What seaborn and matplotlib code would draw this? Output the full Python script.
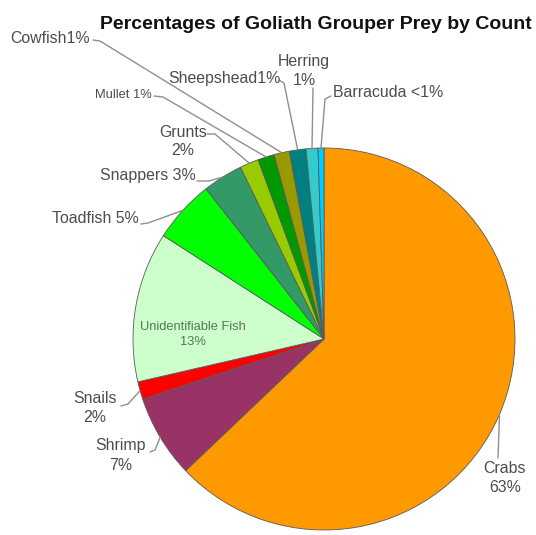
import matplotlib
matplotlib.use("Agg")
import matplotlib.pyplot as plt
import numpy as np
import seaborn as sns

# Prey categories in clockwise order starting at 12 o'clock
prey = ["Crabs", "Shrimp", "Snails", "Unidentifiable Fish", "Toadfish", "Snappers",
        "Grunts", "Mullet", "Cowfish", "Sheepshead", "Herring", "Barracuda"]
percent = [62.9, 7.0, 1.5, 12.7, 5.3, 3.4, 1.6, 1.4, 1.3, 1.4, 1.0, 0.5]
separators = ["\n", "\n", "\n", "\n", " ", " ", "\n", " ", "", "", "\n", " "]
colors = ["#FF9900", "#993366", "#FF0000", "#CCFFCC", "#00FF00", "#339966",
          "#99CC00", "#009900", "#999900", "#008080", "#33CCCC", "#00CCFF"]
title = "Percentages of Goliath Grouper Prey by Count"


def pct_text(v):
    return "<1%" if v < 1 else f"{v:.0f}%"


labels = [f"{n}{s}{pct_text(v)}" for n, s, v in zip(prey, separators, percent)]

sns.set_theme(style="white")
plt.rcParams["font.family"] = ["Liberation Sans", "DejaVu Sans"]

W, H, DPI = 536, 535, 100
CX, CY, R = 324, 339, 191  # pie centre and radius in pixels


def px(x, y):
    """Pixel position (from top-left) to data coordinates."""
    return (x - CX) / R, (CY - y) / R


fig = plt.figure(figsize=(W / DPI, H / DPI), dpi=DPI)
fig.patch.set_facecolor("white")
ax = fig.add_axes([0, 0, 1, 1])

wedges, _ = ax.pie(percent, colors=colors, startangle=90, counterclock=False,
                   radius=1.0,
                   wedgeprops=dict(edgecolor="#5a5a5a", linewidth=0.6))

ax.set_xlim(-CX / R, (W - CX) / R)
ax.set_ylim(-(H - CY) / R, CY / R)
ax.set_aspect("equal")
ax.axis("off")

# label layout: x, first baseline, line gap, alignment, font size, leader points
layout = {
    "Crabs": (505, 473, 19, "center", 11.4, [(498, 458)]),
    "Shrimp": (121, 450, 20, "center", 11.4, [(150, 452), (155, 450)]),
    "Snails": (95, 403, 19, "center", 11.4, [(121, 406), (128, 404)]),
    "Unidentifiable Fish": (193, 330, 15, "center", 9.3, None),
    "Toadfish": (52, 223, 0, "left", 11.4, [(141, 224), (148, 223)]),
    "Snappers": (100, 180, 0, "left", 11.4, [(197, 181), (209, 181)]),
    "Grunts": (183, 137, 18, "center", 11.4, [(207, 134), (215, 134)]),
    "Mullet": (95, 98, 0, "left", 9.3, [(154, 96), (163, 97)]),
    "Cowfish": (10, 43, 0, "left", 11.4, [(93, 40), (100, 41)]),
    "Sheepshead": (168, 83, 0, "left", 11.4, [(279, 80), (284, 83)]),
    "Herring": (304, 66, 19, "center", 11.4, [(313, 88)]),
    "Barracuda": (333, 97, 0, "left", 11.4, [(331, 96), (325, 99)]),
}

text_color = "#4d4d4d"
line_color = "#8f8f8f"

for name, lab, w in zip(prey, labels, wedges):
    x, y, gap, ha, fs, leader = layout[name]
    col = "#5b735b" if name == "Unidentifiable Fish" else text_color
    for i, line in enumerate(lab.split("\n")):
        tx, ty = px(x, y + i * gap)
        ax.text(tx, ty, line, ha=ha, va="baseline", fontsize=fs, color=col)
    if leader:
        mid = np.deg2rad((w.theta1 + w.theta2) / 2)
        pts = [px(a, b) for a, b in leader] + [(np.cos(mid), np.sin(mid))]
        xs, ys = zip(*pts)
        ax.plot(xs, ys, color=line_color, lw=1.0, solid_capstyle="round")

tx, ty = px(316, 29)
ax.text(tx, ty, title, ha="center", va="baseline", fontsize=14.0,
        fontweight="bold", color="#111111")

fig.savefig("out.png", dpi=DPI, facecolor="white")
